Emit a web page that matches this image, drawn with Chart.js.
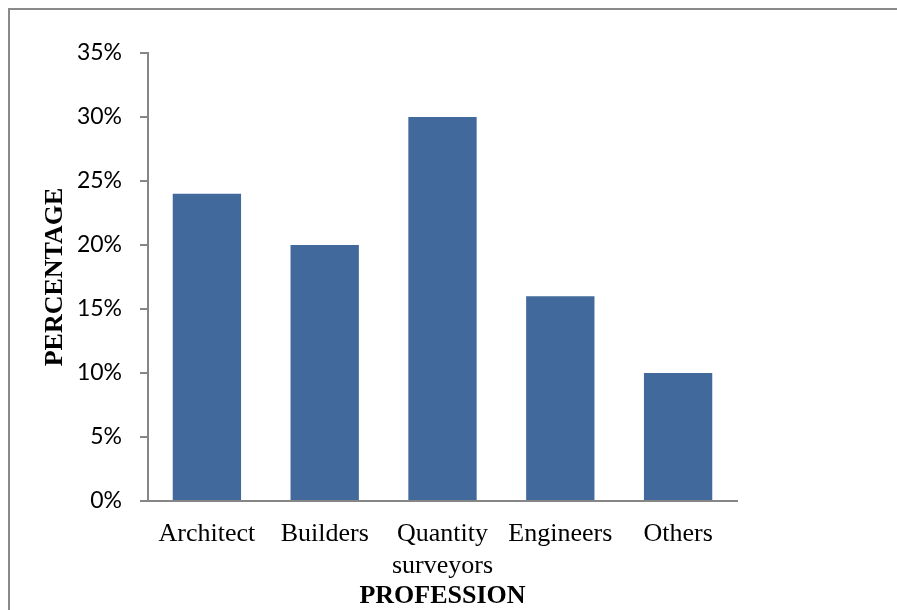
<!DOCTYPE html>
<html>
<head>
<meta charset="utf-8">
<script src="https://cdn.jsdelivr.net/npm/chart.js@4"></script>
<style>
    body { margin: 0; background: #ffffff; }
    .chart-container { position: relative; width: 897px; height: 610px; }
    .frame { position: absolute; left: 8px; top: 8px; right: 0; bottom: 0; border-left: 2px solid #8a8a8a; border-top: 2px solid #8a8a8a; }
</style>
</head>
<body>
<div class="chart-container">
    <div class="frame"></div>
    <canvas id="professionChart"></canvas>
</div>
<script>
// Chart data.
const professions = ["Architect", "Builders", ["Quantity", "surveyors"], "Engineers", "Others"];
const percentages = [24, 20, 30, 16, 10];
const yTicks = [0, 5, 10, 15, 20, 25, 30, 35];

const axisColor = "#868686";
const barColor = "#41699b";

let ctx = document.querySelector("#professionChart").getContext("2d");

new Chart(ctx, {
    type: "bar",
    data: {
        labels: professions,
        datasets: [{
            data: percentages,
            backgroundColor: barColor,
            borderWidth: 0,
            barPercentage: 0.58,
            categoryPercentage: 1
        }]
    },
    options: {
        responsive: true,
        maintainAspectRatio: false,
        animation: false,
        layout: {
            padding: { left: 0, top: 53, right: 160, bottom: 0 }
        },
        plugins: {
            legend: { display: false },
            tooltip: { enabled: false }
        },
        scales: {
            x: {
                grid: {
                    display: false,
                    drawTicks: false
                },
                border: {
                    color: axisColor,
                    width: 2
                },
                ticks: {
                    color: "#000000",
                    padding: 17,
                    maxRotation: 0,
                    autoSkip: false,
                    font: { family: "Liberation Serif", size: 26, lineHeight: 1.23 }
                },
                title: {
                    display: true,
                    text: "PROFESSION",
                    color: "#000000",
                    padding: { top: 0, bottom: 1 },
                    font: { family: "Liberation Serif", size: 26, weight: "bold", lineHeight: 1 }
                },
                afterFit: scale => { scale.height = 109; }
            },
            y: {
                min: 0,
                max: 35,
                afterBuildTicks: scale => {
                    scale.ticks = yTicks.map(v => ({ value: v }));
                },
                grid: {
                    drawOnChartArea: false,
                    drawTicks: true,
                    tickLength: 8,
                    color: axisColor,
                    lineWidth: 2
                },
                border: {
                    color: axisColor,
                    width: 2
                },
                ticks: {
                    color: "#000000",
                    padding: 18,
                    callback: value => value + "%",
                    font: { family: "Lato", size: 23 }
                },
                title: {
                    display: true,
                    text: "PERCENTAGE",
                    color: "#000000",
                    padding: { top: 42, bottom: 0 },
                    font: { family: "Liberation Serif", size: 26, weight: "bold", lineHeight: 1 }
                },
                afterFit: scale => { scale.width = 148; }
            }
        }
    }
});
</script>
</body>
</html>
